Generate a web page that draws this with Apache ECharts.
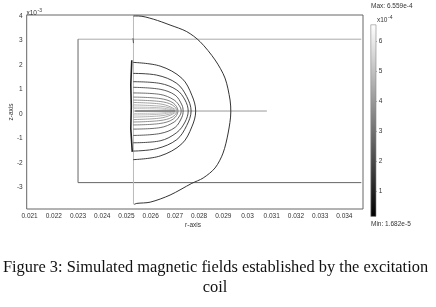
<!DOCTYPE html>
<html><head><meta charset="utf-8">
<script src="https://cdn.jsdelivr.net/npm/echarts@6/dist/echarts.min.js"></script>
<style>html,body{margin:0;padding:0;background:#fff}#c{width:436px;height:307px}</style>
</head><body><div id="c"></div>
<script>
// Axis ranges (r in m, z in units of 1e-3 m)
const rRange = [0.02088, 0.03477];
const zRange = [-3.89, 4.05];
const colorRange = [0.1682, 6.559]; // x1e-4
// Geometry
const outerBoundary = [[0.02529,4.01],[0.02549,4.01],[0.02611,3.88],[0.02680,3.64],[0.02749,3.37],[0.02804,2.96],[0.02866,2.21],[0.02907,1.47],[0.02928,0.57],[0.02931,0.08],[0.02920,-0.78],[0.02899,-1.60],[0.02866,-2.21],[0.02817,-2.62],[0.02770,-2.84],[0.02680,-3.32],[0.02598,-3.61],[0.02543,-3.66],[0.02532,-3.70]];
const symmetryLine = [[0.02529,4.01],[0.02529,-3.70]];
const rectTop = [[0.02300,3.06],[0.03470,3.06]];
const rectLeft = [[0.02300,3.06],[0.02300,-2.81]];
const rectBottom = [[0.02300,-2.81],[0.03470,-2.81]];
const coilAxis = [[0.02529,0.12],[0.03080,0.12]];
const coilBody = [[0.02536,0.12],[0.02701,0.12]];
const leftBand = [[0.02522,2.20],[0.02518,1.20],[0.02520,0.30],[0.02518,-0.60],[0.02524,-1.55]];
const topMark = [[0.02527,3.10],[0.02529,2.90]];
// Field contour lines
const contour1 = [[0.02528,2.11],[0.02639,1.96],[0.02729,1.46],[0.02770,0.77],[0.02786,0.12],[0.02770,-0.53],[0.02729,-1.22],[0.02639,-1.72],[0.02528,-1.87]];
const contour2 = [[0.02528,1.66],[0.02625,1.59],[0.02708,1.25],[0.02749,0.71],[0.02767,0.12],[0.02749,-0.47],[0.02708,-1.05],[0.02625,-1.42],[0.02528,-1.52]];
const contour3 = [[0.02528,1.32],[0.02639,1.25],[0.02708,0.98],[0.02742,0.57],[0.02755,0.12],[0.02742,-0.33],[0.02708,-0.76],[0.02639,-1.10],[0.02528,-1.18]];
const contour4 = [[0.02528,1.09],[0.02639,1.01],[0.02701,0.77],[0.02729,0.37],[0.02734,0.12],[0.02729,-0.13],[0.02701,-0.55],[0.02639,-0.80],[0.02528,-0.88]];
const contour5 = [[0.02528,0.86],[0.02639,0.80],[0.02697,0.57],[0.02722,0.28],[0.02726,0.12],[0.02722,-0.04],[0.02697,-0.33],[0.02639,-0.56],[0.02528,-0.62]];
const contour6 = [[0.02528,0.69],[0.02639,0.63],[0.02693,0.45],[0.02713,0.12],[0.02693,-0.21],[0.02639,-0.39],[0.02528,-0.45]];
const contour7 = [[0.02528,0.57],[0.02639,0.51],[0.02689,0.37],[0.02709,0.12],[0.02689,-0.13],[0.02639,-0.27],[0.02528,-0.33]];
const contour8 = [[0.02528,0.47],[0.02639,0.41],[0.02684,0.28],[0.02705,0.12],[0.02684,-0.04],[0.02639,-0.17],[0.02528,-0.23]];
const contour9 = [[0.02528,0.37],[0.02639,0.32],[0.02680,0.24],[0.02701,0.12],[0.02680,0.00],[0.02639,-0.08],[0.02528,-0.13]];
const contour10 = [[0.02528,0.28],[0.02639,0.25],[0.02697,0.12],[0.02639,-0.01],[0.02528,-0.04]];
const contour11 = [[0.02528,0.22],[0.02639,0.20],[0.02693,0.12],[0.02639,0.04],[0.02528,0.02]];
const contours = [contour1,contour2,contour3,contour4,contour5,contour6,contour7,contour8,contour9,contour10,contour11];
const contourColors = ['#222','#2c2c2c','#383838','#4a4a4a','#5e5e5e','#727272','#868686','#999','#a8a8a8','#b4b4b4','#c0c0c0'];

const chart = echarts.init(document.getElementById('c'), null, {renderer:'canvas'});
const SANS = '"Liberation Sans", Arial, sans-serif';
const SERIF = '16.4px "Liberation Serif", "Times New Roman", serif';
function line(data, color, width, smooth, z){
  return {type:'line', xAxisIndex:0, yAxisIndex:0, data:data, showSymbol:false, symbol:'none',
    smooth:smooth||false, lineStyle:{color:color, width:width||1}, z:z||2, silent:true, clip:true};
}
const series = [
  line(rectTop,'#aaa',1),
  line(rectLeft,'#666',1),
  line(rectBottom,'#666',1),
  line(symmetryLine,'#bbb',1),
  line(coilAxis,'#999',1),
  line(outerBoundary,'#333',1,0.3,3),
];
contours.forEach((c,i)=>series.push(line(c, contourColors[i], 0.9, 0.35, 4)));
series.push(line(coilBody,'#777',1.5,false,5));
series.push(line(leftBand,'#222',1.6,false,6));
series.push(line(topMark,'#555',1,false,6));
series.push({type:'bar', xAxisIndex:1, yAxisIndex:1, stack:'cb', data:[colorRange[0]], barWidth:'100%', itemStyle:{color:'rgba(0,0,0,0)'}, silent:true});
series.push({type:'bar', xAxisIndex:1, yAxisIndex:1, stack:'cb', data:[colorRange[1]-colorRange[0]], barWidth:'100%', silent:true,
  itemStyle:{borderColor:'#888', borderWidth:0.6, color:new echarts.graphic.LinearGradient(0,0,0,1,[{offset:0,color:'#fff'},{offset:1,color:'#000'}])}});

const lbl = {fontSize:6.5, color:'#333', fontFamily:SANS};
function txt(x,y,s,size,align){
  return {type:'text', x:x, y:y, style:{text:s, font:size+'px '+SANS, fill:'#333', align:align||'left', verticalAlign:'middle'}};
}
chart.setOption({
  animation:false,
  backgroundColor:'#fff',
  grid:[
    {left:26.7, top:15, width:336.3, height:194, show:true, borderColor:'#666', borderWidth:1, backgroundColor:'#fff'},
    {left:370.5, top:24.5, width:5.8, height:192.2}
  ],
  xAxis:[
    {type:'value', gridIndex:0, min:rRange[0], max:rRange[1], minInterval:0.001, maxInterval:0.001,
      axisLine:{show:false}, axisTick:{show:false}, splitLine:{show:false},
      axisLabel:Object.assign({margin:4, showMinLabel:false, showMaxLabel:false, formatter:v=>String(+v.toFixed(3))}, lbl)},
    {type:'category', gridIndex:1, data:['B'], show:false}
  ],
  yAxis:[
    {type:'value', gridIndex:0, min:zRange[0], max:zRange[1], minInterval:1, maxInterval:1,
      axisLine:{show:false}, axisTick:{show:false}, splitLine:{show:false},
      axisLabel:Object.assign({margin:4, showMinLabel:false, showMaxLabel:false, formatter:v=>String(Math.round(v))}, lbl)},
    {type:'value', gridIndex:1, position:'right', min:colorRange[0], max:colorRange[1], minInterval:1, maxInterval:1,
      axisLine:{show:false}, axisTick:{show:true, inside:true, length:1.5, lineStyle:{color:'#000'}}, splitLine:{show:false},
      axisLabel:Object.assign({margin:2.5, showMinLabel:false, showMaxLabel:false, formatter:v=>String(Math.round(v))}, lbl)}
  ],
  series:series,
  graphic:[
    txt(26.5,13,'x10',6.5), txt(37.5,10.5,'-3',5),
    {type:'text', x:11, y:112, rotation:Math.PI/2, style:{text:'z-axis', font:'6.5px '+SANS, fill:'#333', align:'center', verticalAlign:'middle'}},
    txt(193,225,'r-axis',6.5,'center'),
    txt(371,6.5,'Max: 6.559e-4',6.5),
    txt(377,20,'x10',6.5), txt(388,17.5,'-4',5),
    txt(371,224,'Min: 1.682e-5',6.5),
    {type:'text', x:215.5, y:268, style:{text:'Figure 3: Simulated magnetic fields established by the excitation', font:SERIF, fill:'#111', align:'center', verticalAlign:'middle'}},
    {type:'text', x:215, y:288, style:{text:'coil', font:SERIF, fill:'#111', align:'center', verticalAlign:'middle'}}
  ]
});
</script></body></html>
